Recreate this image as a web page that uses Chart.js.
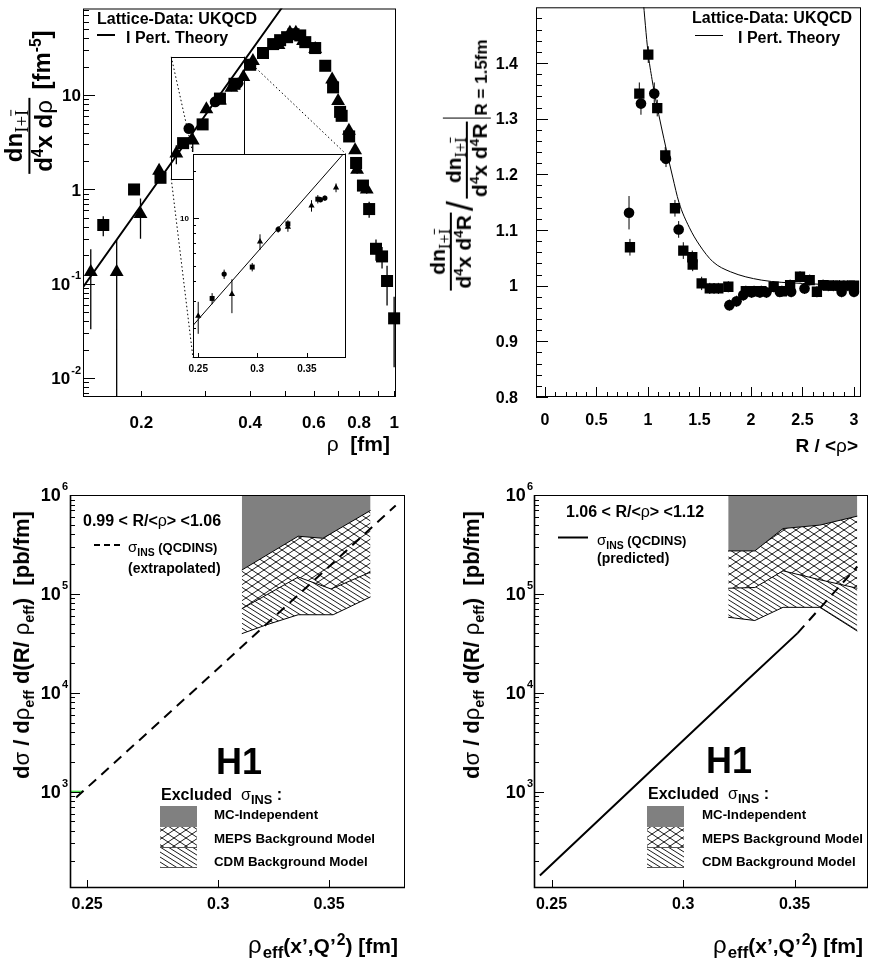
<!DOCTYPE html>
<html>
<head>
<meta charset="utf-8">
<title>Instanton size / distance distributions and H1 limits</title>
<script src="https://cdn.jsdelivr.net/npm/chart.js@4.4.1/dist/chart.umd.min.js"></script>
<style>
  body { margin: 0; background: #fff; }
  #page { position: relative; width: 872px; height: 964px; overflow: hidden;
          font-family: "Liberation Sans", Arial, Helvetica, sans-serif; font-weight: bold; color: #000; }
  canvas { position: absolute; }
  .t { position: absolute; white-space: nowrap; line-height: 1; }
  .g { font-weight: normal; }
  .ser { font-family: "Liberation Serif", "Times New Roman", serif; font-weight: normal; font-size: 78%; }
  .ov { text-decoration: overline; }
  sub, sup { font-size: 65%; line-height: 0; }
  .rot { transform: translate(-50%, -50%) rotate(-90deg); display: flex; align-items: center; }
  .frac { display: inline-block; text-align: center; }
  .frac > span { display: block; padding: 0 2px; line-height: 1.15; }
  .frac > .num { border-bottom: 2px solid #000; }
  .ln { position: absolute; background: #000; }
</style>
</head>
<body>
<div id="page">
  <canvas id="cTL" width="436" height="482" style="left:0;top:0"></canvas>
  <canvas id="cIn" width="200" height="245" style="left:160px;top:140px"></canvas>
  <canvas id="cTR" width="436" height="482" style="left:436px;top:0"></canvas>
  <canvas id="cBL" width="436" height="482" style="left:0;top:482px"></canvas>
  <canvas id="cBR" width="436" height="482" style="left:436px;top:482px"></canvas>

  <!-- top left -->
  <div class="t" style="left:97px;top:10.5px;font-size:16px">Lattice-Data: UKQCD</div>
  <div class="ln" style="left:97px;top:34px;width:18px;height:2px"></div>
  <div class="t" style="left:126px;top:29.8px;font-size:16px">I Pert. Theory</div>
  <div class="t" style="right:482px;top:433px;font-size:21px"><span class="g">ρ</span>&nbsp;&nbsp;[fm]</div>
  <div class="t rot" style="left:29px;top:136px;font-size:24px">
    <span class="frac"><span class="num">dn<sub class="ser">I+<span class="ov">I</span></sub></span><span>d<sup>4</sup>x d<span class="g">ρ</span></span></span>
  </div>
  <div class="t rot" style="left:42px;top:60px;font-size:24px"><span>[fm<sup>-5</sup>]</span></div>

  <!-- top right -->
  <div class="t" style="left:692px;top:9.8px;font-size:16px">Lattice-Data: UKQCD</div>
  <div class="ln" style="left:695px;top:34.5px;width:28px;height:1.5px"></div>
  <div class="t" style="left:738px;top:29.8px;font-size:16px">I Pert. Theory</div>
  <div class="t" style="right:14px;top:436px;font-size:19px">R / &lt;<span class="g">ρ</span>&gt;</div>
  <div class="t rot" style="left:451px;top:165px;font-size:21px">
    <span class="frac"><span class="num">dn<sub class="ser">I+<span class="ov">I</span></sub></span><span>d<sup>4</sup>x d<sup>4</sup>R</span></span>
    <span class="g" style="position:relative;top:10px;font-size:36px;margin:0 2px">/</span>
    <span class="frac" style="position:relative;top:16px"><span class="num">dn<sub class="ser">I+<span class="ov">I</span></sub></span><span>d<sup>4</sup>x d<sup>4</sup>R</span></span>
    <span style="position:relative;top:16px;border-left:1.5px solid #000;height:48px;margin-left:3px"></span>
    <span style="position:relative;top:30px;font-size:17px;margin-left:2px">R = 1.5fm</span>
  </div>

  <!-- bottom left -->
  <div class="t" style="left:83px;top:513px;font-size:16px">0.99 &lt; R/&lt;<span class="g">ρ</span>&gt; &lt;1.06</div>
  <div class="t" style="left:128px;top:539px;font-size:13px"><span class="g" style="font-size:15px">σ</span><sub style="font-size:80%">INS</sub> (QCDINS)</div>
  <div class="t" style="left:128px;top:561px;font-size:14px">(extrapolated)</div>
  <div class="t" style="left:216px;top:743.5px;font-size:36px">H1</div>
  <div class="t" style="left:161px;top:786.5px;font-size:16px">Excluded&nbsp;&nbsp;<span class="g">σ</span><sub style="font-size:80%">INS</sub> :</div>
  <div class="t" style="left:214px;top:808.2px;font-size:13.3px">MC-Independent</div>
  <div class="t" style="left:214px;top:832px;font-size:13.3px">MEPS Background Model</div>
  <div class="t" style="left:214px;top:854.7px;font-size:13.3px">CDM Background Model</div>
  <div class="t" style="right:474px;top:933px;font-size:21px"><span class="g" style="font-size:24px">ρ</span><sub style="font-size:80%;margin-left:1px">eff</sub>(x’,Q’<sup style="font-size:75%;margin-left:1px">2</sup>) [fm]</div>
  <div class="t rot" style="left:22px;top:645px;font-size:22px">
    <span>d<span class="g">σ</span> / d<span class="g">ρ</span><sub>eff</sub> d(R/ <span class="g">ρ</span><sub>eff</sub>)&nbsp;&nbsp;[pb/fm]</span>
  </div>

  <!-- bottom right -->
  <div class="t" style="left:566px;top:504px;font-size:16px">1.06 &lt; R/&lt;<span class="g">ρ</span>&gt; &lt;1.12</div>
  <div class="t" style="left:597px;top:532px;font-size:13px"><span class="g" style="font-size:15px">σ</span><sub style="font-size:80%">INS</sub> (QCDINS)</div>
  <div class="t" style="left:597px;top:551px;font-size:14px">(predicted)</div>
  <div class="t" style="left:706px;top:742.5px;font-size:36px">H1</div>
  <div class="t" style="left:648px;top:785.5px;font-size:16px">Excluded&nbsp;&nbsp;<span class="g">σ</span><sub style="font-size:80%">INS</sub> :</div>
  <div class="t" style="left:702px;top:808.2px;font-size:13.3px">MC-Independent</div>
  <div class="t" style="left:702px;top:832px;font-size:13.3px">MEPS Background Model</div>
  <div class="t" style="left:702px;top:854.7px;font-size:13.3px">CDM Background Model</div>
  <div class="t" style="right:9px;top:933px;font-size:21px"><span class="g" style="font-size:24px">ρ</span><sub style="font-size:80%;margin-left:1px">eff</sub>(x’,Q’<sup style="font-size:75%;margin-left:1px">2</sup>) [fm]</div>
  <div class="t rot" style="left:472px;top:645px;font-size:22px">
    <span>d<span class="g">σ</span> / d<span class="g">ρ</span><sub>eff</sub> d(R/ <span class="g">ρ</span><sub>eff</sub>)&nbsp;&nbsp;[pb/fm]</span>
  </div>
</div>

<script>
// ---------- top left: size distribution dn/d4x drho (fm^-5) ----------
const rhoSqX = [0.157, 0.191, 0.226, 0.261, 0.2955, 0.330, 0.362, 0.400, 0.434, 0.463, 0.484, 0.506, 0.527, 0.550, 0.568, 0.605, 0.645, 0.678, 0.709, 0.716, 0.751, 0.785, 0.820, 0.853, 0.891, 0.926, 0.956, 1.000];
const rhoSqY = [0.42, 1.0, 1.33, 3.1, 4.9, 9.2, 13.2, 21.0, 28.0, 34.8, 38.3, 41.2, 44.3, 43.0, 36.5, 31.6, 20.5, 12.1, 6.65, 6.04, 3.65, 1.91, 1.10, 0.62, 0.235, 0.195, 0.107, 0.043];
const rhoSqErr = [0.1, 0.06, 0.12, 0.25, 0.3, 0.5, 0.8, 1.0, 1.2, 1.4, 1.5, 1.6, 1.7, 1.7, 1.5, 1.4, 1.0, 0.8, 0.5, 0.5, 0.3, 0.2, 0.15, 0.12, 0.06, 0.05, 0.048, 0.03];

const rhoTriX = [0.145, 0.171, 0.199, 0.224, 0.250, 0.2775, 0.3027, 0.330, 0.355, 0.383, 0.407, 0.479, 0.515, 0.535, 0.560, 0.605, 0.674, 0.700, 0.750, 0.780, 0.790, 0.840];
const rhoTriY = [0.133, 0.133, 0.55, 1.58, 2.4, 3.3, 7.1, 8.8, 12.0, 15.6, 23.0, 34.0, 46.0, 46.0, 37.5, 30.9, 14.7, 8.66, 4.2, 2.6, 1.62, 1.0];
const rhoTriErr = [0.1, 0.16, 0.25, 0.25, 0.55, 0.8, 0.8, 0.6, 1.0, 1.0, 1.3, 1.5, 2.0, 2.0, 1.6, 1.4, 1.0, 0.6, 0.3, 0.2, 0.15, 0.1];

const rhoCirX = [0.2709, 0.3202, 0.365, 0.370];
const rhoCirY = [4.42, 8.5, 13.1, 13.4];
const rhoCirErr = [0.3, 0.4, 0.5, 0.5];

const rhoTheoryX = [0.138, 0.25, 0.49];
const rhoTheoryY = [0.092, 2.28, 85];

// zoomed window shown in the inset
const zoomX = [0.242, 0.385];
const zoomY = [1.3, 25.5];

// ---------- top right: distance distribution ratio ----------
const sepSqX = [0.825, 0.916, 1.003, 1.09, 1.168, 1.262, 1.343, 1.43, 1.434, 1.521, 1.60, 1.683, 1.78, 1.95, 2.03, 2.10, 2.22, 2.30, 2.38, 2.476, 2.57, 2.64, 2.70, 2.75, 2.80, 2.86, 2.94, 3.0];
const sepSqY = [1.069, 1.345, 1.415, 1.319, 1.234, 1.139, 1.063, 1.051, 1.038, 1.004, 0.995, 0.995, 0.998, 0.99, 0.99, 0.99, 0.998, 0.99, 1.001, 1.016, 1.01, 0.989, 1.001, 1.0, 1.0, 1.0, 1.0, 1.0];
const sepSqErr = [0.015, 0.02, 0.015, 0.015, 0.015, 0.015, 0.015, 0.012, 0.012, 0.012, 0.01, 0.01, 0.01, 0.01, 0.01, 0.01, 0.01, 0.01, 0.01, 0.01, 0.01, 0.01, 0.01, 0.01, 0.01, 0.01, 0.01, 0.01];

const sepCirX = [0.816, 0.932, 1.061, 1.175, 1.298, 1.79, 1.86, 1.925, 2.006, 2.087, 2.15, 2.28, 2.39, 2.52, 2.88, 3.0];
const sepCirY = [1.131, 1.327, 1.345, 1.228, 1.101, 0.965, 0.972, 0.983, 0.988, 0.988, 0.988, 0.989, 0.989, 0.995, 0.989, 0.989];
const sepCirErr = [0.03, 0.02, 0.02, 0.015, 0.015, 0.01, 0.01, 0.01, 0.01, 0.01, 0.01, 0.01, 0.01, 0.01, 0.01, 0.01];

const sepTheoryX = [0.95, 1.0, 1.04, 1.08, 1.13, 1.18, 1.24, 1.3, 1.4, 1.5, 1.63, 1.8, 2.1, 2.5, 3.0];
const sepTheoryY = [1.52, 1.42, 1.37, 1.33, 1.285, 1.243, 1.195, 1.15, 1.105, 1.073, 1.043, 1.025, 1.01, 1.004, 1.0];

// ---------- bottom left: 0.99 < R/<rho> < 1.06 ----------
const blMcX = [0.310, 0.3353, 0.347, 0.3708];
const blMcLo = [174000, 383000, 365000, 698000];
const blMepsX = [0.310, 0.3353, 0.351, 0.3708];
const blMepsLo = [70700, 148000, 112000, 166000];
const blCdmX = [0.310, 0.321, 0.3353, 0.352, 0.3708];
const blCdmLo = [39600, 48800, 61500, 61500, 93300];
const blInsX = [0.2462, 0.2955, 0.384];
const blInsY = [871, 14000, 783000];
const blGreenX = [0.2441, 0.2486];
const blGreenY = [1000, 1000];

// ---------- bottom right: 1.06 < R/<rho> < 1.12 ----------
const brMcX = [0.3193, 0.3313, 0.3445, 0.3625, 0.3818];
const brMcLo = [272000, 272000, 458000, 496000, 611000];
const brMepsLo = [114000, 116000, 171000, 139000, 114000];
const brCdmLo = [58000, 53800, 73100, 73100, 42000];
const brInsX = [0.246, 0.3275, 0.3515];
const brInsY = [142, 13200, 40100];
const brExtX = [0.3515, 0.3818];
const brExtY = [40100, 189000];

const FONT = '"Liberation Sans", Arial, Helvetica, sans-serif';
const pts = (xs, ys) => xs.map((x, i) => ({ x, y: ys[i] }));

function decadeTicks(lo, hi, major, minor) {
  const out = [];
  for (let e = -4; e <= 7; e++) {
    for (let m = 1; m <= 9; m++) {
      const v = m * Math.pow(10, e);
      if (v >= lo && v <= hi) out.push([v, m === 1 ? major : minor]);
    }
  }
  return out;
}

function hatchPattern(cross) {
  const w = cross ? 12 : 8, h = cross ? 8 : 5;
  const c = document.createElement('canvas');
  c.width = w; c.height = h;
  const g = c.getContext('2d');
  g.strokeStyle = '#000';
  g.lineWidth = 0.9;
  g.beginPath();
  for (let k = -1; k <= 1; k++) {
    g.moveTo(k * w - w, -h); g.lineTo(k * w + 2 * w, 2 * h);
    if (cross) { g.moveTo(k * w - w, 2 * h); g.lineTo(k * w + 2 * w, -h); }
  }
  g.stroke();
  return document.createElement('canvas').getContext('2d').createPattern(c, 'repeat');
}
const crossPat = hatchPattern(true);
const singlePat = hatchPattern(false);

function powLabel(ctx, base, exp, xr, yc, size) {
  ctx.textAlign = 'left';
  ctx.textBaseline = 'alphabetic';
  const es = Math.round(size * 0.62);
  ctx.font = `bold ${size}px ${FONT}`;
  const wb = ctx.measureText(base).width;
  let we = 0;
  if (exp) { ctx.font = `bold ${es}px ${FONT}`; we = ctx.measureText(exp).width + 1; }
  const x0 = xr - wb - we, by = yc + size * 0.36;
  ctx.font = `bold ${size}px ${FONT}`;
  ctx.fillText(base, x0, by);
  if (exp) { ctx.font = `bold ${es}px ${FONT}`; ctx.fillText(exp, x0 + wb + 1, by - size * 0.62); }
}

function drawErrors(chart) {
  const { ctx, chartArea: a } = chart;
  const ys = chart.scales.y;
  ctx.save();
  ctx.beginPath();
  ctx.rect(a.left, a.top, a.width, a.height);
  ctx.clip();
  ctx.strokeStyle = '#000';
  chart.data.datasets.forEach((ds, i) => {
    if (!ds.errs) return;
    const meta = chart.getDatasetMeta(i);
    ctx.lineWidth = ds.errWidth || 1;
    ctx.beginPath();
    ds.data.forEach((p, j) => {
      const e = ds.errs[j];
      if (!e) return;
      const px = meta.data[j].x;
      const lo = p.y - e;
      const y1 = (ys.type === 'logarithmic' && lo <= 0) ? a.bottom + 2 : ys.getPixelForValue(lo);
      ctx.moveTo(px, y1);
      ctx.lineTo(px, ys.getPixelForValue(p.y + e));
    });
    ctx.stroke();
  });
  ctx.restore();
}

function rootPad(opt) {
  return {
    id: 'rootPad',
    beforeDatasetsDraw(chart) {
      const { ctx, chartArea: a } = chart;
      if (opt.white) {
        ctx.save(); ctx.fillStyle = '#fff'; ctx.fillRect(a.left, a.top, a.width, a.height); ctx.restore();
      }
      if (opt.under) opt.under(chart);
      drawErrors(chart);
    },
    afterDraw(chart) {
      const { ctx, chartArea: a, scales: { x, y } } = chart;
      ctx.save();
      ctx.strokeStyle = '#000';
      ctx.lineWidth = 1;
      ctx.strokeRect(a.left + 0.5, a.top + 0.5, a.width - 1, a.height - 1);
      if (opt.heavy) {
        ctx.lineWidth = opt.heavy;
        ctx.beginPath();
        ctx.moveTo(a.left + 0.5, a.top); ctx.lineTo(a.left + 0.5, a.bottom - 0.5); ctx.lineTo(a.right, a.bottom - 0.5);
        ctx.stroke();
      }
      ctx.lineWidth = 1;
      ctx.beginPath();
      opt.xTicks.forEach(([v, len]) => {
        const px = Math.round(x.getPixelForValue(v)) + 0.5;
        ctx.moveTo(px, a.bottom); ctx.lineTo(px, a.bottom - len);
      });
      opt.yTicks.forEach(([v, len]) => {
        const py = Math.round(y.getPixelForValue(v)) + 0.5;
        ctx.moveTo(a.left, py); ctx.lineTo(a.left + len, py);
      });
      ctx.stroke();
      ctx.fillStyle = '#000';
      ctx.textAlign = 'center';
      ctx.textBaseline = 'middle';
      ctx.font = `bold ${opt.xLab.size}px ${FONT}`;
      opt.xLab.items.forEach(([v, t]) => ctx.fillText(t, x.getPixelForValue(v), a.bottom + opt.xLab.dy));
      opt.yLab.items.forEach(([v, t, e]) => powLabel(ctx, t, e, a.left - opt.yLab.dx, y.getPixelForValue(v), opt.yLab.size));
      if (opt.over) opt.over(chart);
      ctx.restore();
    }
  };
}

function baseOptions(pad, xs, ys) {
  return {
    responsive: false,
    animation: false,
    devicePixelRatio: 1,
    events: [],
    layout: { padding: pad },
    plugins: { legend: { display: false }, tooltip: { enabled: false } },
    scales: {
      x: Object.assign({ display: false, bounds: 'data' }, xs),
      y: Object.assign({ display: false, bounds: 'data' }, ys)
    }
  };
}

const markers = (xs, ys, errs, style, r, extra) => Object.assign({
  data: pts(xs, ys), errs, showLine: false, pointStyle: style, pointRadius: r,
  pointBackgroundColor: '#000', pointBorderColor: '#000', pointBorderWidth: 0, borderWidth: 0
}, extra);

const curve = (xs, ys, extra) => Object.assign({
  data: pts(xs, ys), pointRadius: 0, borderColor: '#000', borderWidth: 1, fill: false
}, extra);

// ---------- inset (drawn first, its frame is needed by the main pad) ----------
const inCanvas = document.getElementById('cIn');
const tlCanvas = document.getElementById('cTL');
const insetChart = new Chart(inCanvas, {
  type: 'line',
  data: {
    datasets: [
      markers(rhoTriX, rhoTriY, rhoTriErr, 'triangle', 3.6, { clip: 0 }),
      markers(rhoSqX, rhoSqY, rhoSqErr, 'rect', 3.5, { clip: 0 }),
      markers(rhoCirX, rhoCirY, rhoCirErr, 'circle', 2.6, { clip: 0 }),
      curve(rhoTheoryX, rhoTheoryY, { clip: 0 })
    ]
  },
  options: baseOptions({ left: 33, top: 14, right: 14, bottom: 27 },
    { type: 'logarithmic', min: 0.246, max: 0.395 },
    { type: 'logarithmic', min: 1.3, max: 25.5 }),
  plugins: [rootPad({
    white: true,
    xTicks: [[0.25, 5], [0.3, 5], [0.35, 5]],
    yTicks: decadeTicks(1.3, 25.5, 6, 3),
    xLab: { size: 10, dy: 11, items: [[0.25, '0.25'], [0.3, '0.3'], [0.35, '0.35']] },
    yLab: { size: 8, dx: 4, items: [[10, '10']] }
  })]
});

// ---------- top left ----------
new Chart(tlCanvas, {
  type: 'line',
  data: {
    datasets: [
      markers(rhoTriX, rhoTriY, rhoTriErr, 'triangle', 8, { clip: false, errWidth: 1.3 }),
      markers(rhoSqX, rhoSqY, rhoSqErr, 'rect', 8.5, { clip: false, errWidth: 1.3 }),
      markers(rhoCirX, rhoCirY, rhoCirErr, 'circle', 5.5, { clip: false, errWidth: 1.3 }),
      curve(rhoTheoryX, rhoTheoryY, { borderWidth: 2 })
    ]
  },
  options: baseOptions({ left: 83, top: 3, right: 40, bottom: 85 },
    { type: 'logarithmic', min: 0.138, max: 1.012 },
    { type: 'logarithmic', min: 0.0063, max: 83 }),
  plugins: [rootPad({
    xTicks: [0.2, 0.3, 0.4, 0.5, 0.6, 0.7, 0.8, 0.9, 1.0].map(v => [v, 6]),
    yTicks: decadeTicks(0.0063, 83, 12, 6),
    xLab: { size: 17, dy: 26, items: [[0.2, '0.2'], [0.4, '0.4'], [0.6, '0.6'], [0.8, '0.8'], [1, '1']] },
    yLab: { size: 17, dx: 2, items: [[0.01, '10', '-2'], [0.1, '10', '-1'], [1, '1'], [10, '10']] },
    under(chart) {
      const { ctx, scales: { x, y } } = chart;
      const l = x.getPixelForValue(zoomX[0]), r = x.getPixelForValue(zoomX[1]);
      const t = y.getPixelForValue(zoomY[1]), b = y.getPixelForValue(zoomY[0]);
      const ia = insetChart.chartArea;
      const ox = inCanvas.offsetLeft - tlCanvas.offsetLeft, oy = inCanvas.offsetTop - tlCanvas.offsetTop;
      ctx.save();
      ctx.strokeStyle = '#000';
      ctx.lineWidth = 1;
      ctx.strokeRect(Math.round(l) + 0.5, Math.round(t) + 0.5, Math.round(r - l), Math.round(b - t));
      ctx.setLineDash([1.5, 2.5]);
      ctx.beginPath();
      ctx.moveTo(l, t); ctx.lineTo(ia.left + ox, ia.top + oy);
      ctx.moveTo(l, b); ctx.lineTo(ia.left + ox, ia.bottom + oy);
      ctx.moveTo(r, t); ctx.lineTo(ia.right + ox, ia.top + oy);
      ctx.stroke();
      ctx.restore();
    }
  })]
});

// ---------- top right ----------
const trXTicks = [], trYTicks = [];
for (let i = 0; i <= 30; i++) trXTicks.push([i / 10, i % 5 === 0 ? 10 : 5]);
for (let i = 40; i <= 74; i++) trYTicks.push([i / 50, i % 5 === 0 ? 12 : 6]);
new Chart(document.getElementById('cTR'), {
  type: 'line',
  data: {
    datasets: [
      markers(sepSqX, sepSqY, sepSqErr, 'rect', 7.3),
      markers(sepCirX, sepCirY, sepCirErr, 'circle', 5.3),
      curve(sepTheoryX, sepTheoryY, { cubicInterpolationMode: 'monotone' })
    ]
  },
  options: baseOptions({ left: 100, top: 3, right: 11, bottom: 85 },
    { type: 'linear', min: -0.087, max: 3.068 },
    { type: 'linear', min: 0.8, max: 1.5 }),
  plugins: [rootPad({
    xTicks: trXTicks,
    yTicks: trYTicks,
    xLab: { size: 16, dy: 24, items: [[0, '0'], [0.5, '0.5'], [1, '1'], [1.5, '1.5'], [2, '2'], [2.5, '2.5'], [3, '3']] },
    yLab: { size: 16, dx: 18, items: [[0.8, '0.8'], [0.9, '0.9'], [1, '1'], [1.1, '1.1'], [1.2, '1.2'], [1.3, '1.3'], [1.4, '1.4']] }
  })]
});

// ---------- bottom panels ----------
function legendBoxes(ctx, bx) {
  ctx.fillStyle = '#808080';
  ctx.fillRect(bx, 324, 37, 21);
  ctx.fillStyle = crossPat;
  ctx.fillRect(bx, 345, 37, 20);
  ctx.fillStyle = singlePat;
  ctx.fillRect(bx, 365, 37, 21);
  ctx.strokeStyle = '#555';
  ctx.lineWidth = 1;
  ctx.beginPath();
  ctx.moveTo(bx, 365.5); ctx.lineTo(bx + 37, 365.5);
  ctx.moveTo(bx, 385.5); ctx.lineTo(bx + 37, 385.5);
  ctx.stroke();
}

const bottomY = { type: 'logarithmic', min: 106, max: 1e6 };
const bottomYTicks = decadeTicks(106, 1e6, 10, 5);
const bottomYLab = [[1e3, '10', '3'], [1e4, '10', '4'], [1e5, '10', '5'], [1e6, '10', '6']];
const bottomXLab = [[0.25, '0.25'], [0.3, '0.3'], [0.35, '0.35']];

new Chart(document.getElementById('cBL'), {
  type: 'line',
  data: {
    datasets: [
      curve(blMcX, blMcLo, { fill: 'end', backgroundColor: '#808080' }),
      curve(blMepsX, blMepsLo, { fill: '-1', backgroundColor: crossPat }),
      curve(blCdmX, blCdmLo, { fill: '-1', backgroundColor: singlePat }),
      curve(blInsX, blInsY, { borderWidth: 2, borderDash: [10, 7] }),
      curve(blGreenX, blGreenY, { borderWidth: 2, borderColor: '#4ddf4d' })
    ]
  },
  options: baseOptions({ left: 70, top: 13, right: 31, bottom: 76 },
    { type: 'logarithmic', min: 0.2441, max: 0.389 }, bottomY),
  plugins: [rootPad({
    heavy: 1.6,
    xTicks: [[0.25, 8], [0.3, 8], [0.35, 8]],
    yTicks: bottomYTicks,
    xLab: { size: 16, dy: 17, items: bottomXLab },
    yLab: { size: 18, dx: 2, items: bottomYLab },
    over(chart) {
      const ctx = chart.ctx;
      ctx.strokeStyle = '#000';
      ctx.lineWidth = 2;
      ctx.setLineDash([6, 4]);
      ctx.beginPath(); ctx.moveTo(94, 63); ctx.lineTo(121, 63); ctx.stroke();
      ctx.setLineDash([]);
      legendBoxes(ctx, 160);
    }
  })]
});

new Chart(document.getElementById('cBR'), {
  type: 'line',
  data: {
    datasets: [
      curve(brMcX, brMcLo, { fill: 'end', backgroundColor: '#808080' }),
      curve(brMcX, brMepsLo, { fill: '-1', backgroundColor: crossPat }),
      curve(brMcX, brCdmLo, { fill: '-1', backgroundColor: singlePat }),
      curve(brInsX, brInsY, { borderWidth: 2 }),
      curve(brExtX, brExtY, { borderWidth: 2, borderDash: [10, 7] })
    ]
  },
  options: baseOptions({ left: 98, top: 13, right: 4, bottom: 76 },
    { type: 'logarithmic', min: 0.244, max: 0.3875 }, bottomY),
  plugins: [rootPad({
    heavy: 1.6,
    xTicks: [[0.25, 8], [0.3, 8], [0.35, 8]],
    yTicks: bottomYTicks,
    xLab: { size: 16, dy: 17, items: bottomXLab },
    yLab: { size: 18, dx: 1, items: bottomYLab },
    over(chart) {
      const ctx = chart.ctx;
      ctx.strokeStyle = '#000';
      ctx.lineWidth = 2;
      ctx.beginPath(); ctx.moveTo(122, 55.5); ctx.lineTo(152, 55.5); ctx.stroke();
      legendBoxes(ctx, 211);
    }
  })]
});
</script>
</body>
</html>
